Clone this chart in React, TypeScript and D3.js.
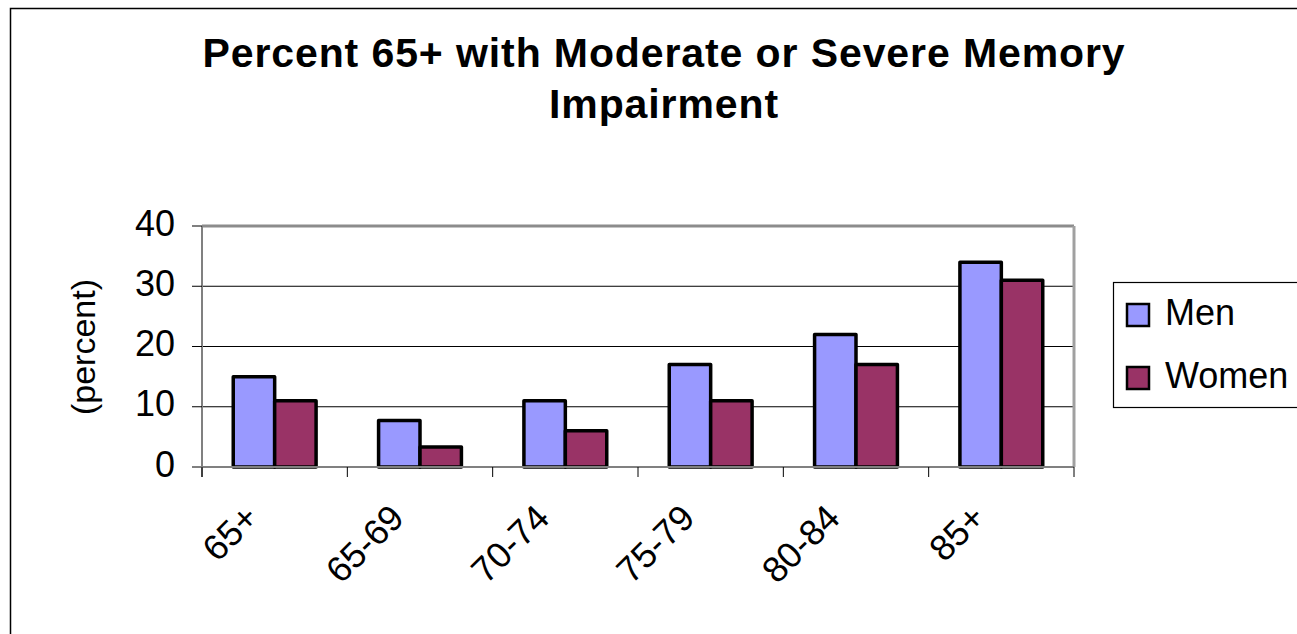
import React from "react";
import * as d3 from "d3";

const categories = ["65+", "65-69", "70-74", "75-79", "80-84", "85+"];
const seriesNames = ["Men", "Women"];
const menValues = [15, 7.7, 11, 17, 22, 34];
const womenValues = [11, 3.3, 6, 11, 17, 31];
const yTicks = [0, 10, 20, 30, 40];
const seriesColors = ["#9999FF", "#993366"];
const titleLines = ["Percent 65+ with Moderate or Severe Memory", "Impairment"];
const yLabel = "(percent)";

const W = 1297;
const H = 634;
const plot = { left: 202, right: 1074, top: 226, bottom: 467 };
const FONT = "'Liberation Sans', Arial, Helvetica, sans-serif";

export default function App() {
  const x0 = d3.scaleBand<string>().domain(categories).range([plot.left, plot.right]).padding(0);
  const bw = x0.bandwidth();
  const gp = bw * 0.215;
  const x1 = d3.scaleBand<string>().domain(seriesNames).range([gp, bw - gp]).padding(0);
  const y = d3.scaleLinear().domain([0, 40]).range([plot.bottom, plot.top]);
  const seriesValues = [menValues, womenValues];

  const boundaries = categories.map((c) => x0(c) as number).concat([plot.right]);

  return (
    <svg
      width={W}
      height={H}
      style={{ position: "absolute", left: 0, top: 0, background: "#fff" }}
      fontFamily={FONT}
    >
      <rect x={0} y={0} width={W} height={H} fill="#fff" />
      {/* outer chart border */}
      <rect x={10.5} y={8.5} width={1400} height={1000} fill="none" stroke="#000" strokeWidth={1.5} />

      {/* title */}
      {titleLines.map((t, i) => (
        <text
          key={i}
          x={664}
          y={67 + i * 51}
          textAnchor="middle"
          fontSize={41}
          fontWeight="bold"
          letterSpacing={0.9}
          fill="#000"
        >
          {t}
        </text>
      ))}

      {/* gridlines */}
      {yTicks
        .filter((v) => v > 0 && v < 40)
        .map((v) => (
          <line key={v} x1={plot.left} x2={plot.right} y1={y(v)} y2={y(v)} stroke="#000" strokeWidth={1} />
        ))}

      {/* plot frame: top and right */}
      <line x1={plot.left} x2={plot.right} y1={plot.top} y2={plot.top} stroke="#8c8c8c" strokeWidth={3} />
      <line x1={plot.right} x2={plot.right} y1={plot.top} y2={plot.bottom} stroke="#a0a0a0" strokeWidth={3} />

      {/* bars */}
      {categories.map((c, ci) => (
        <g key={c} transform={`translate(${x0(c)},0)`}>
          {seriesNames.map((s, si) => {
            const v = seriesValues[si][ci];
            return (
              <rect
                key={s}
                x={x1(s) as number}
                y={y(v)}
                width={x1.bandwidth()}
                height={y(0) - y(v)}
                fill={seriesColors[si]}
                stroke="#000"
                strokeWidth={3.5}
                strokeLinejoin="round"
              />
            );
          })}
        </g>
      ))}

      {/* y axis */}
      <line x1={plot.left} x2={plot.left} y1={plot.top} y2={plot.bottom + 10} stroke="#808080" strokeWidth={2} />
      {yTicks.map((v) => (
        <g key={v}>
          <line x1={plot.left - 10} x2={plot.left} y1={y(v)} y2={y(v)} stroke="#000" strokeWidth={1} />
          <text x={175} y={y(v) + 9.5} textAnchor="end" fontSize={36} fill="#000">
            {v}
          </text>
        </g>
      ))}
      <text
        transform={`translate(95,347) rotate(-90)`}
        textAnchor="middle"
        fontSize={34}
        fill="#000"
      >
        {yLabel}
      </text>

      {/* x axis */}
      <line x1={plot.left - 10} x2={plot.right} y1={plot.bottom} y2={plot.bottom} stroke="#808080" strokeWidth={2} />
      {boundaries.map((bx, i) => (
        <line key={i} x1={bx} x2={bx} y1={plot.bottom} y2={plot.bottom + 10} stroke="#000" strokeWidth={1} />
      ))}
      {categories.map((c) => {
        const cx = (x0(c) as number) + bw / 2;
        return (
          <text
            key={c}
            transform={`translate(${cx - 14},${plot.bottom + 53}) rotate(-45)`}
            textAnchor="end"
            fontSize={36}
            fill="#000"
          >
            {c}
          </text>
        );
      })}

      {/* legend */}
      <rect x={1113.5} y={282.5} width={300} height={125} fill="#fff" stroke="#000" strokeWidth={1.2} />
      {seriesNames.map((s, i) => (
        <g key={s} transform={`translate(0,${i * 63})`}>
          <rect x={1127} y={304} width={22} height={22} fill={seriesColors[i]} stroke="#000" strokeWidth={2.5} />
          <text x={1165} y={325} fontSize={36} fill="#000">
            {s}
          </text>
        </g>
      ))}
    </svg>
  );
}
